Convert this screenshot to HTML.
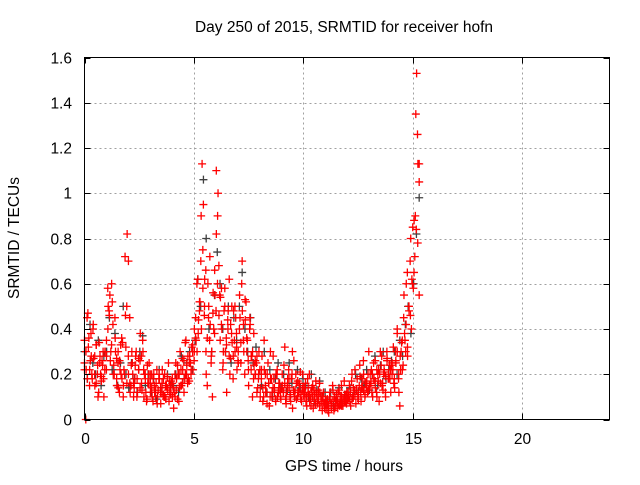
<!DOCTYPE html>
<html><head><meta charset="utf-8"><style>
body{margin:0;background:#fff;}
svg text{font-family:"Liberation Sans",sans-serif;font-size:15.5px;fill:#000;}
</style></head><body>
<svg id="chart" width="640" height="480" xmlns="http://www.w3.org/2000/svg">
<rect x="0" y="0" width="640" height="480" fill="#fff"/>
<g id="grid"></g>
<g id="pts"></g>
<rect x="84.5" y="57.5" width="525" height="362" fill="none" stroke="#000" stroke-width="1"/>
<g id="ticks"></g>
<text x="344" y="32" text-anchor="middle">Day 250 of 2015, SRMTID for receiver hofn</text>
<text x="344" y="471" text-anchor="middle">GPS time / hours</text>
<text x="0" y="0" text-anchor="middle" transform="translate(19,238) rotate(-90)">SRMTID / TECUs</text>
</svg>
<script>
const xTicks=[0,5,10,15,20];
const yTicks=[0,0.2,0.4,0.6,0.8,1,1.2,1.4,1.6];
const yTickLabels=["0","0.2","0.4","0.6","0.8","1","1.2","1.4","1.6"];
const tEnd=15.3;
const redA=[0.25,0.0,0.45,0.32,0.22,0.38,0.18,0.27,0.15,0.33,0.2,0.12,0.28,0.19,0.24,0.1,0.3,
0.35,0.58,0.48,0.26,0.6,0.42,0.2,0.3,0.15,0.25,0.12,0.33,0.18,0.1,0.2,0.32,0.82,
0.7,0.45,0.15,0.25,0.1,0.18,0.3,0.12,0.22,0.14,0.28,0.35,0.1,0.2,0.08,0.16,0.25,
0.12,0.2,0.08,0.15,0.1,0.22,0.13,0.18,0.07,0.16,0.11,0.2,0.09,0.14,0.25,0.12,0.17,
0.1,0.05,0.2,0.13,0.24,0.08,0.3,0.15,0.22,0.12,0.34,0.2,0.28,0.17,0.25,0.32,0.22,
0.3,0.45,0.6,0.38,0.52,0.7,1.13,0.95,0.62,0.3,0.15,0.45,0.72,0.25,0.1,0.4,0.55,
1.1,0.9,0.68,0.35,0.58,0.22,0.48,0.3,0.12,0.4,0.62,0.27,0.5,0.18,0.35,0.45,0.22,
0.3,0.55,0.25,0.7,0.42,0.2,0.52,0.35,0.15,0.45,0.28,0.1,0.38,0.2,0.25,0.14,0.3,
0.1,0.22,0.08,0.35,0.15,0.12,0.25,0.06,0.18,0.1,0.28,0.14,0.08,0.2,0.12,0.16,0.09,
0.2,0.12,0.32,0.07,0.15,0.22,0.1,0.18,0.05,0.26,0.13,0.09,0.17,0.12,0.21,0.08,0.14,
0.1,0.16,0.06,0.12,0.2,0.09,0.14,0.05,0.11,0.17,0.08,0.13,0.06,0.1,0.04,0.12,0.07,
0.05,0.09,0.03,0.12,0.06,0.15,0.04,0.08,0.11,0.05,0.13,0.07,0.1,0.06,0.17,0.08,0.12,
0.09,0.15,0.06,0.2,0.1,0.13,0.07,0.18,0.11,0.24,0.08,0.14,0.2,0.1,0.16,0.12,0.3,
0.15,0.22,0.1,0.18,0.26,0.12,0.2,0.08,0.16,0.28,0.13,0.21,0.1,0.3,0.18,0.24,0.12,
0.2,0.32,0.14,0.25,0.4,0.18,0.06,0.3,0.22,0.45,0.35,0.6,0.28,0.5,0.7,0.4,0.85,
0.65,0.9,1.53,1.13,0.55];
const redB=[0.35,0.22,0.47,0.15,0.28,0.4,0.2,0.33,0.1,0.25,0.17,0.3,0.22,
0.28,0.5,0.55,0.33,0.2,0.45,0.27,0.14,0.22,0.36,0.15,0.72,0.5,
0.2,0.12,0.3,0.16,0.24,0.1,0.27,0.38,0.13,0.22,0.18,0.09,0.2,
0.16,0.1,0.2,0.13,0.07,0.18,0.12,0.22,0.1,0.15,0.19,0.08,0.14,
0.18,0.12,0.25,0.09,0.2,0.15,0.27,0.18,0.35,0.16,0.25,0.2,0.33,
0.4,0.35,0.62,0.48,0.9,0.75,0.5,0.2,0.6,0.35,0.28,0.47,0.66,
0.82,1.0,0.55,0.42,0.25,0.58,0.33,0.48,0.2,0.38,0.28,0.5,0.32,
0.25,0.45,0.6,0.35,0.53,0.3,0.22,0.42,0.28,0.18,0.26,0.12,0.2,
0.14,0.28,0.1,0.2,0.07,0.16,0.3,0.12,0.18,0.09,0.22,0.13,0.1,
0.15,0.24,0.09,0.13,0.18,0.08,0.3,0.12,0.2,0.1,0.16,0.11,0.2,
0.14,0.08,0.18,0.11,0.06,0.15,0.09,0.12,0.07,0.16,0.1,0.08,0.05,
0.08,0.04,0.1,0.07,0.13,0.05,0.09,0.12,0.06,0.15,0.08,0.11,0.07,
0.12,0.08,0.17,0.1,0.22,0.13,0.09,0.19,0.14,0.26,0.11,0.17,0.13,
0.2,0.12,0.25,0.17,0.1,0.22,0.3,0.15,0.2,0.12,0.27,0.18,0.22,
0.25,0.16,0.3,0.38,0.12,0.22,0.35,0.55,0.3,0.65,0.48,0.8,0.6,
0.88,1.35,1.26,1.05];
const redC=[0.22,0.3,0.18,0.36,0.26,0.2,0.42,0.28,0.16,0.24,0.34,0.2,0.26,0.18,0.3,
0.22,0.4,0.46,0.3,0.52,0.24,0.36,0.18,0.3,0.26,0.2,0.34,0.22,0.46,0.16,0.28,
0.16,0.24,0.2,0.14,0.28,0.18,0.22,0.26,0.16,0.3,0.2,0.12,0.24,0.16,0.2,
0.14,0.18,0.12,0.16,0.1,0.2,0.14,0.12,0.18,0.1,0.15,0.13,0.17,0.11,0.16,
0.14,0.1,0.18,0.2,0.14,0.22,0.16,0.26,0.2,0.24,0.18,0.28,0.22,0.3,0.26,
0.36,0.3,0.44,0.52,0.4,0.58,0.46,0.66,0.36,0.5,0.42,0.3,0.56,0.38,0.48,
0.6,0.46,0.54,0.4,0.3,0.5,0.36,0.44,0.28,0.42,0.34,0.48,0.3,0.38,0.26,
0.4,0.34,0.48,0.3,0.44,0.36,0.26,0.4,0.22,0.3,0.24,0.2,0.28,0.18,0.22,
0.18,0.14,0.22,0.12,0.2,0.16,0.1,0.18,0.14,0.12,0.2,0.1,0.16,0.12,0.14,
0.12,0.16,0.1,0.18,0.14,0.11,0.2,0.13,0.1,0.16,0.12,0.15,0.09,0.13,0.11,
0.12,0.1,0.14,0.08,0.12,0.1,0.13,0.07,0.11,0.09,0.12,0.08,0.1,0.07,0.09,
0.07,0.06,0.09,0.05,0.08,0.1,0.06,0.08,0.07,0.1,0.06,0.09,0.08,0.11,0.09,
0.1,0.12,0.09,0.14,0.11,0.13,0.1,0.15,0.12,0.18,0.13,0.16,0.14,0.2,0.15,
0.16,0.2,0.18,0.14,0.22,0.17,0.2,0.24,0.16,0.22,0.19,0.26,0.2,0.18,0.24,
0.22,0.18,0.26,0.3,0.2,0.28,0.34,0.24,0.38,0.42,0.32,0.5,0.46,0.62,0.58,
0.72,0.84,0.78,1.13];
const grayS=[0.3,0.18,0.42,0.25,0.2,0.35,0.15,0.28,
0.3,0.45,0.22,0.38,0.15,0.25,0.5,0.2,
0.14,0.25,0.18,0.12,0.3,0.37,0.15,0.2,
0.12,0.18,0.09,0.22,0.14,0.1,0.2,0.15,
0.15,0.2,0.12,0.28,0.18,0.25,0.3,0.22,
0.35,0.62,0.5,1.06,0.8,0.4,0.3,0.55,
0.74,0.6,0.4,0.3,0.5,0.25,0.45,0.35,
0.5,0.65,0.4,0.3,0.45,0.25,0.32,0.2,
0.15,0.3,0.12,0.22,0.1,0.18,0.25,0.14,
0.2,0.12,0.25,0.16,0.1,0.22,0.14,0.18,
0.15,0.1,0.2,0.08,0.13,0.17,0.1,0.12,
0.08,0.12,0.06,0.1,0.14,0.07,0.11,0.09,
0.14,0.1,0.2,0.12,0.18,0.15,0.22,0.13,
0.2,0.28,0.15,0.24,0.3,0.18,0.22,0.26,
0.3,0.2,0.35,0.28,0.42,0.5,0.38,0.6,
0.82,0.98];
const NS="http://www.w3.org/2000/svg";
const X0=84.5,X1=609.5,Y0=419.5,Y1=57.5;
function sx(v){return X0+(v/24)*(X1-X0);}
function sy(v){return Y0-(v/1.6)*(Y0-Y1);}
const grid=document.getElementById('grid'),ticks=document.getElementById('ticks'),pts=document.getElementById('pts');
function line(p,x1,y1,x2,y2,st,dash,name){const l=document.createElementNS(NS,'line');l.setAttribute('x1',x1);l.setAttribute('y1',y1);l.setAttribute('x2',x2);l.setAttribute('y2',y2);l.setAttribute('stroke',st);if(dash)l.setAttribute('stroke-dasharray',dash);


p.appendChild(l);}
function txt(p,x,y,s,anchor,name){const t=document.createElementNS(NS,'text');t.setAttribute('x',x);t.setAttribute('y',y);t.setAttribute('text-anchor',anchor);t.textContent=s;


p.appendChild(t);}
xTicks.forEach(v=>{const x=Math.round(sx(v))+0.5;if(v>0)line(grid,x,Y1,x,Y0,'#a0a0a0','2,3','x-gridline');
line(ticks,x,Y0,x,Y0-6,'#000',null,'x-tick');line(ticks,x,Y1,x,Y1+6,'#000',null,'x-tick');
txt(ticks,x,444,String(v),'middle','x-tick-label');});
yTicks.forEach((v,i)=>{const y=Math.round(sy(v))+0.5;if(v>0&&v<1.6)line(grid,X0,y,X1,y,'#a0a0a0','2,3','y-gridline');
line(ticks,X0,y,X0+6,y,'#000',null,'y-tick');line(ticks,X1,y,X1-6,y,'#000',null,'y-tick');
txt(ticks,72,y+5,yTickLabels[i],'end','y-tick-label');});
function plus(x,y,c,name){const p=document.createElementNS(NS,'path');p.setAttribute('d',`M${x-4} ${y}H${x+4}M${x} ${y-4}V${y+4}`);p.setAttribute('stroke',c);p.setAttribute('stroke-width','1.3');


pts.appendChild(p);}
function series(arr,c,name){const n=arr.length;arr.forEach((v,i)=>{plus(sx(i*tEnd/(n-1)),sy(v),c,name);});}
series(grayS,'#404040','gray-point');
series(redC,'#ff0000','red-point');
series(redB,'#ff0000','red-point');
series(redA,'#ff0000','red-point');
</script>
</body></html>
